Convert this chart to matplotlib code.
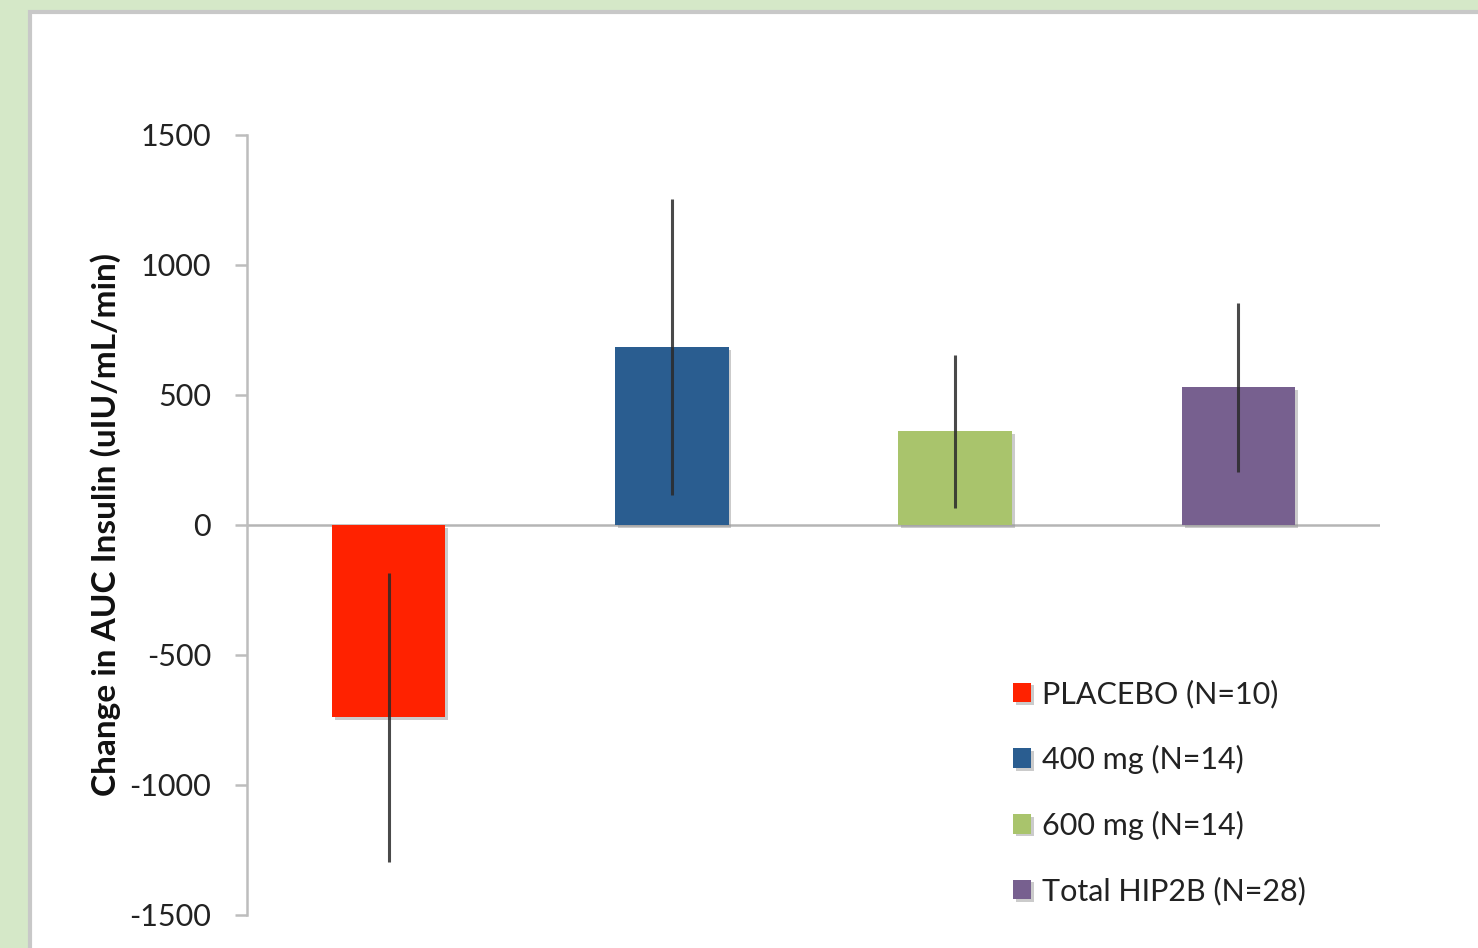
import matplotlib
matplotlib.use("Agg")
import matplotlib.pyplot as plt
from matplotlib.patches import Rectangle
import matplotlib.patheffects as pe
import numpy as np

plt.rcParams['font.family'] = ['Lato', 'DejaVu Sans']

groups = ['PLACEBO (N=10)', '400 mg (N=14)', '600 mg (N=14)', 'Total HIP2B (N=28)']
values = [-740, 685, 360, 530]
errors = [555, 570, 295, 325]
colors = ['#ff2200', '#2a5d90', '#a9c46c', '#77608f']
yticks = [-1500, -1000, -500, 0, 500, 1000, 1500]

fig = plt.figure(figsize=(14.78, 9.48), dpi=100)
fig.patch.set_facecolor('#d5e8c8')
# white panel with grey frame, drawn behind the axes
fig.patches.append(Rectangle((30/1478, -0.01), 1.0, 1.01 - 12/948, transform=fig.transFigure,
                             facecolor='white', edgecolor='#c8c8c8', linewidth=3, zorder=-10))

ax = fig.add_axes([247/1478, 33/948, 1133/1478, 780/948])
ax.set_facecolor('none')
ax.set_zorder(5)
x = np.arange(len(groups))
shadow = [pe.SimplePatchShadow(offset=(2, -2), shadow_rgbFace='#999999', alpha=0.5), pe.Normal()]
bars = ax.bar(x, values, width=0.4, color=colors, zorder=2, label=groups)
for b in bars:
    b.set_path_effects(shadow)
ax.errorbar(x, values, yerr=errors, fmt='none', ecolor='#2a2a2a', elinewidth=2.2,
            capsize=0, zorder=3, alpha=0.85)
ax.axhline(0, color='#b5b5b5', linewidth=1.8, zorder=1)

ax.set_xlim(-0.5, 3.5)
ax.set_ylim(-1500, 1500)
ax.set_yticks(yticks)
ax.set_yticklabels([str(t) for t in yticks], fontsize=22, color='#222222')
ax.tick_params(axis='y', direction='out', length=9, width=1.8, color='#bdbdbd', pad=17)
ax.set_xticks([])
for s in ['top', 'right', 'bottom']:
    ax.spines[s].set_visible(False)
ax.spines['left'].set_color('#bdbdbd')
ax.spines['left'].set_linewidth(1.8)
ax.set_ylabel('Change in AUC Insulin (uIU/mL/min)', fontsize=24, fontweight='bold',
              color='#111111', labelpad=6)

leg = ax.legend(handles=list(bars), labels=groups, loc='upper left',
                bbox_to_anchor=(0.676, 0.302), frameon=False, fontsize=22,
                handlelength=0.6, handleheight=0.6, handletextpad=0.35,
                labelspacing=1.2, borderaxespad=0, borderpad=0)
for t in leg.get_texts():
    t.set_color('#222222')

fig.savefig('out.png', dpi=100, facecolor=fig.get_facecolor())
